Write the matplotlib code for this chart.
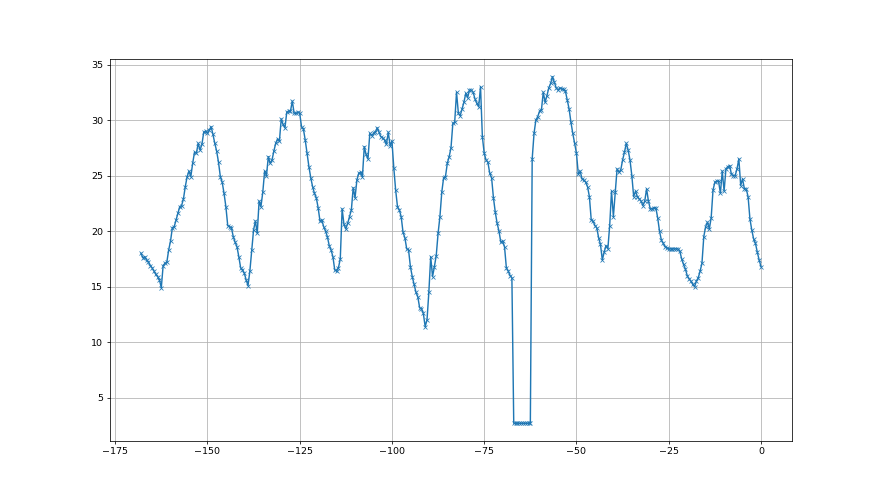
import numpy as np
import matplotlib
matplotlib.use("Agg")
import matplotlib.pyplot as plt

# readings every half unit, from -168 up to 0
temps = [
    # -168 .. -162.5
    18.0, 17.6, 17.7, 17.4, 17.2, 16.9, 16.7, 16.4, 16.1, 15.9, 15.6, 14.9,
    # -162 .. -149
    16.9, 17.1, 17.2, 18.3, 19.1, 20.3, 20.4, 21.0, 21.6, 22.2,
    22.3, 22.9, 24.0, 24.9, 25.4, 24.9, 26.1, 27.1, 27.0, 27.9,
    27.3, 27.8, 28.9, 29.0, 28.8, 29.1, 29.4,
    # -148.5 .. -139
    28.7, 27.9, 27.2, 26.2, 24.9, 24.4, 23.4, 22.2, 20.5, 20.4,
    20.3, 19.5, 19.0, 18.6, 17.7, 16.7, 16.5, 16.2, 15.6, 15.1,
    # -138.5 .. -133.5
    16.4, 18.3, 20.1, 20.9, 19.8, 22.7, 22.2, 23.5, 25.4, 25.0, 26.7,
    # -133 .. -95
    26.1, 26.4, 27.2, 27.9, 28.3, 28.1, 30.1, 29.6, 29.3, 30.7,
    30.8, 30.8, 31.7, 30.6, 30.6, 30.7, 30.6, 29.4, 29.2, 28.2,
    27.0, 25.8, 24.8, 24.0, 23.4, 23.0, 22.1, 20.9, 21.0, 20.4,
    20.0, 19.5, 18.7, 18.3, 17.7, 16.5, 16.4, 16.7, 17.5, 22.0,
    20.6, 20.2, 20.7, 21.3, 21.9, 23.9, 23.0, 24.6, 25.2, 25.3,
    24.9, 27.6, 26.9, 26.5, 28.8, 28.6, 28.8, 28.9, 29.3, 28.9,
    28.5, 28.4, 28.2, 27.8, 28.9, 27.7, 28.1, 25.7, 23.7, 22.2,
    21.9, 21.3, 19.9, 19.4, 18.4, 18.3, 16.8,
    # -94.5 .. -83
    15.9, 15.2, 14.5, 14.1, 13.1, 13.0, 12.6, 11.4, 12.0, 14.5,
    17.7, 15.9, 16.8, 17.8, 19.8, 21.3, 23.5, 24.8, 24.9, 26.1,
    26.7, 27.5, 29.7, 29.8,
    # -82.5 .. -72.5
    32.5, 30.6, 30.4, 31.0, 31.6, 32.4, 32.0, 32.7, 32.7, 32.5,
    31.9, 31.5, 31.2, 33.0, 28.5, 27.0, 26.4, 26.2, 25.2, 24.8, 23.0,
    # -72 .. -67.5
    21.7, 20.7, 20.0, 19.0, 19.1, 18.6, 16.7, 16.4, 16.0, 15.8,
    # -67 .. -62.5
    2.7, 2.7, 2.7, 2.7, 2.7, 2.7, 2.7, 2.7, 2.7, 2.7,
    # -62 .. -50
    26.5, 28.8, 30.0, 30.3, 30.8, 30.9, 32.5, 31.6, 32.2, 32.9,
    33.3, 33.9, 33.4, 32.9, 32.7, 32.9, 32.8, 32.8, 32.6, 31.8,
    31.0, 29.8, 28.8, 27.9, 27.0,
    # -49.5 .. -22
    25.1, 25.4, 24.7, 24.6, 24.4, 24.0, 23.1, 21.0, 20.9, 20.5,
    20.3, 19.4, 18.8, 17.4, 18.1, 18.7, 18.4, 20.5, 23.6, 21.3,
    23.5, 25.6, 25.3, 25.5, 26.4, 27.1, 27.9, 27.3, 26.4, 25.0,
    23.1, 23.6, 23.1, 22.9, 22.7, 22.3, 22.7, 23.8, 22.7, 22.0,
    22.0, 22.1, 22.1, 21.2, 20.0, 19.2, 18.9, 18.6, 18.5, 18.4,
    18.4, 18.4, 18.4, 18.4, 18.4, 18.2,
    # -21.5 .. 0
    17.5, 17.0, 16.6, 16.0, 15.7, 15.5, 15.2, 15.0, 15.5, 15.8,
    16.4, 17.1, 19.5, 20.4, 20.8, 20.2, 21.2, 23.7, 24.4, 24.5,
    24.5, 23.4, 25.4, 23.6, 25.6, 25.8, 25.9, 25.1, 25.0, 25.0,
    25.6, 26.5, 24.1, 24.7, 23.8, 23.8, 23.1, 21.1, 20.1, 19.3,
    18.9, 18.1, 17.4, 16.8,
]
start = -168
step = 0.5


def main():
    hours = start + step * np.arange(len(temps))

    fig, ax = plt.subplots(figsize=(12.8, 7.2), dpi=68.75)
    ax.plot(hours, temps, marker="x", markersize=4.5, markeredgewidth=0.8)
    ax.grid(True)
    fig.savefig("out.png", dpi=68.75)


if __name__ == "__main__":
    main()
